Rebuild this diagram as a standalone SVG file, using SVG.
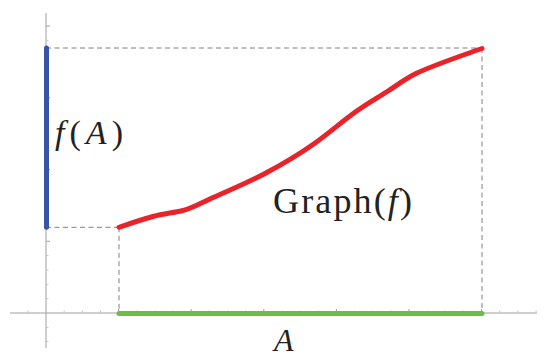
<svg xmlns="http://www.w3.org/2000/svg" width="544" height="358" viewBox="0 0 544 358">
<style>
.axis{stroke:#a0a0a0;stroke-width:1;fill:none}
.minor{stroke:#c4c4c4;stroke-width:1}
.major{stroke:#a0a0a0;stroke-width:1}
.dash{stroke:#808080;stroke-width:1;stroke-dasharray:5 3.5;fill:none}
.thick{fill:none;stroke-width:5;stroke-linecap:round;stroke-linejoin:round}
.lbl{font-family:"Times New Roman",Times,"Liberation Serif","Nimbus Roman","Nimbus Roman No9 L",FreeSerif,"Noto Serif","DejaVu Serif",serif;fill:#222222}
</style>
<rect width="544" height="358" fill="#ffffff"/>
<g id="axes">
<line class="axis" x1="10" y1="313" x2="537" y2="313"/>
<line class="axis" x1="46" y1="13" x2="46" y2="348"/>
<g id="xticks">
<line class="minor" x1="27.85" y1="313" x2="27.85" y2="310.5"/>
<line class="minor" x1="64.15" y1="313" x2="64.15" y2="310.5"/>
<line class="minor" x1="82.3" y1="313" x2="82.3" y2="310.5"/>
<line class="minor" x1="100.45" y1="313" x2="100.45" y2="310.5"/>
<line class="major" x1="118.6" y1="313" x2="118.6" y2="309"/>
<line class="minor" x1="136.75" y1="313" x2="136.75" y2="310.5"/>
<line class="minor" x1="154.9" y1="313" x2="154.9" y2="310.5"/>
<line class="minor" x1="173.05" y1="313" x2="173.05" y2="310.5"/>
<line class="major" x1="191.2" y1="313" x2="191.2" y2="309"/>
<line class="minor" x1="209.35" y1="313" x2="209.35" y2="310.5"/>
<line class="minor" x1="227.5" y1="313" x2="227.5" y2="310.5"/>
<line class="minor" x1="245.65" y1="313" x2="245.65" y2="310.5"/>
<line class="major" x1="263.8" y1="313" x2="263.8" y2="309"/>
<line class="minor" x1="281.95" y1="313" x2="281.95" y2="310.5"/>
<line class="minor" x1="300.1" y1="313" x2="300.1" y2="310.5"/>
<line class="minor" x1="318.25" y1="313" x2="318.25" y2="310.5"/>
<line class="major" x1="336.4" y1="313" x2="336.4" y2="309"/>
<line class="minor" x1="354.55" y1="313" x2="354.55" y2="310.5"/>
<line class="minor" x1="372.7" y1="313" x2="372.7" y2="310.5"/>
<line class="minor" x1="390.85" y1="313" x2="390.85" y2="310.5"/>
<line class="major" x1="409" y1="313" x2="409" y2="309"/>
<line class="minor" x1="427.15" y1="313" x2="427.15" y2="310.5"/>
<line class="minor" x1="445.3" y1="313" x2="445.3" y2="310.5"/>
<line class="minor" x1="463.45" y1="313" x2="463.45" y2="310.5"/>
<line class="major" x1="481.6" y1="313" x2="481.6" y2="309"/>
<line class="minor" x1="499.75" y1="313" x2="499.75" y2="310.5"/>
<line class="minor" x1="517.9" y1="313" x2="517.9" y2="310.5"/>
<line class="minor" x1="536.05" y1="313" x2="536.05" y2="310.5"/>
</g>
<g id="yticks">
<line class="minor" x1="46" y1="341.7" x2="48.5" y2="341.7"/>
<line class="minor" x1="46" y1="327.35" x2="48.5" y2="327.35"/>
<line class="minor" x1="46" y1="298.65" x2="48.5" y2="298.65"/>
<line class="minor" x1="46" y1="284.3" x2="48.5" y2="284.3"/>
<line class="minor" x1="46" y1="269.95" x2="48.5" y2="269.95"/>
<line class="minor" x1="46" y1="255.6" x2="48.5" y2="255.6"/>
<line class="major" x1="46" y1="241.25" x2="50" y2="241.25"/>
<line class="minor" x1="46" y1="226.9" x2="48.5" y2="226.9"/>
<line class="minor" x1="46" y1="212.55" x2="48.5" y2="212.55"/>
<line class="minor" x1="46" y1="198.2" x2="48.5" y2="198.2"/>
<line class="minor" x1="46" y1="183.85" x2="48.5" y2="183.85"/>
<line class="major" x1="46" y1="169.5" x2="50" y2="169.5"/>
<line class="minor" x1="46" y1="155.15" x2="48.5" y2="155.15"/>
<line class="minor" x1="46" y1="140.8" x2="48.5" y2="140.8"/>
<line class="minor" x1="46" y1="126.45" x2="48.5" y2="126.45"/>
<line class="minor" x1="46" y1="112.1" x2="48.5" y2="112.1"/>
<line class="major" x1="46" y1="97.75" x2="50" y2="97.75"/>
<line class="minor" x1="46" y1="83.4" x2="48.5" y2="83.4"/>
<line class="minor" x1="46" y1="69.05" x2="48.5" y2="69.05"/>
<line class="minor" x1="46" y1="54.7" x2="48.5" y2="54.7"/>
<line class="minor" x1="46" y1="40.35" x2="48.5" y2="40.35"/>
<line class="major" x1="46" y1="26" x2="50" y2="26"/>
</g>
</g>
<g id="connectors">
<path class="dash" d="M46,48 H482"/>
<path class="dash" d="M46,227.3 H119"/>
<path class="dash" d="M119,227.3 V313"/>
<path class="dash" d="M482,48 V313"/>
</g>
<g id="range-fA">
<line class="thick" stroke="#3b55a6" x1="46.5" y1="48" x2="46.5" y2="227.3"/>
</g>
<g id="domain-A">
<line class="thick" stroke="#6cbd45" x1="119" y1="313.5" x2="482" y2="313.5"/>
</g>
<g id="graph-f">
<path class="thick" stroke="#e8232a" d="M119,227.3 C130,223.5 142,219.5 153,216.5 C163,213.8 172,213 182,210.8 C192,208.5 200,203.5 212,198 C228,191 246,183.5 265,173.5 C282,164.5 298,155 313,144.5 C328,134 342,121.5 356,111.5 C368,103 378,97.5 388,91 C398,84.5 405,79 416,73.5 C434,65 455,58 482,48.5"/>
</g>
<g id="labels">
<text class="lbl" font-size="34" x="55" y="143.5" textLength="68" lengthAdjust="spacing"><tspan font-style="italic">f</tspan>(<tspan font-style="italic">A</tspan>)</text>
<text class="lbl" font-size="36" x="273" y="213" textLength="139" lengthAdjust="spacing">Graph(<tspan font-style="italic">f</tspan>)</text>
<text class="lbl" font-size="32" font-style="italic" x="274" y="351">A</text>
</g>
</svg>
